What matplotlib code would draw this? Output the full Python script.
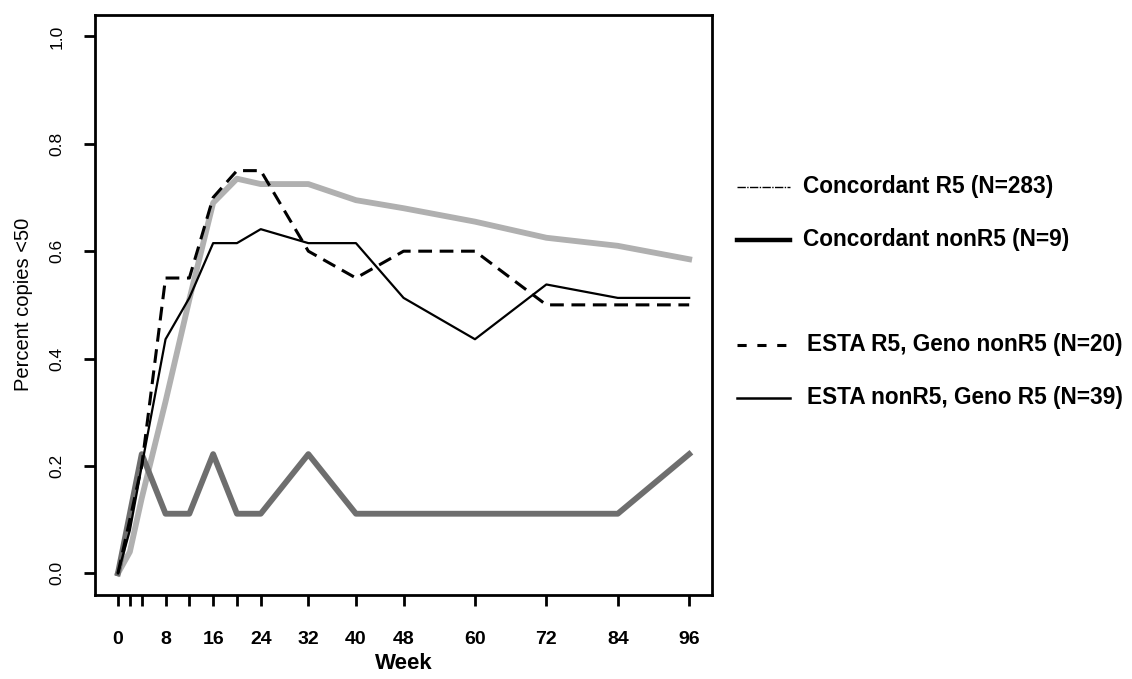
import matplotlib
matplotlib.use("Agg")
import matplotlib.pyplot as plt
from matplotlib.lines import Line2D

# weeks of the visits
weeks = [0, 2, 4, 8, 12, 16, 20, 24, 32, 40, 48, 60, 72, 84, 96]

# Concordant R5 (N=283) - light grey, smooth
conc_r5 = [0.0, 0.04, 0.14, 0.32, 0.51, 0.69, 0.735, 0.725, 0.725, 0.695, 0.68, 0.655, 0.625, 0.61, 0.585]
# Concordant nonR5 (N=9) - dark grey zigzag
conc_nonr5 = [0.0, 0.111, 0.222, 0.111, 0.111, 0.222, 0.111, 0.111, 0.222, 0.111, 0.111, 0.111, 0.111, 0.111, 0.222]
# ESTA R5, Geno nonR5 (N=20) - dashed
esta_r5 = [0.0, 0.10, 0.20, 0.55, 0.55, 0.70, 0.75, 0.75, 0.60, 0.55, 0.60, 0.60, 0.50, 0.50, 0.50]
# ESTA nonR5, Geno R5 (N=39) - thin solid
esta_nonr5 = [0.0, 0.08, 0.20, 0.436, 0.513, 0.615, 0.615, 0.641, 0.615, 0.615, 0.513, 0.436, 0.538, 0.513, 0.513]

x_tick_pos = [0, 2, 4, 8, 12, 16, 20, 24, 32, 40, 48, 60, 72, 84, 96]
x_tick_lab = ['0', '', '', '8', '', '16', '', '24', '32', '40', '48', '60', '72', '84', '96']
y_ticks = [0.0, 0.2, 0.4, 0.6, 0.8, 1.0]

legend_labels = ['Concordant R5 (N=283)', 'Concordant nonR5 (N=9)',
                 'ESTA R5, Geno nonR5 (N=20)', 'ESTA nonR5, Geno R5 (N=39)']

plt.rcParams['font.family'] = ['Liberation Sans', 'DejaVu Sans']

fig = plt.figure(figsize=(11.32, 6.79), dpi=100)
ax = fig.add_axes([0.084, 0.124, 0.545, 0.854])

ax.plot(weeks, conc_r5, color='#b0b0b0', lw=4.2, solid_joinstyle='round')
ax.plot(weeks, conc_nonr5, color='#6e6e6e', lw=4.2, solid_joinstyle='round')
ax.plot(weeks, esta_r5, color='black', lw=2.2, dashes=(4.5, 2.5))
ax.plot(weeks, esta_nonr5, color='black', lw=1.6)

ax.set_xlim(-3.84, 99.84)
ax.set_ylim(-0.04, 1.04)
ax.set_xticks(x_tick_pos)
ax.set_xticklabels(x_tick_lab, fontweight='bold', fontsize=14)
ax.set_yticks(y_ticks)
ax.set_yticklabels([f'{v:.1f}' for v in y_ticks], rotation=90, va='center', fontsize=12.5)
ax.tick_params(axis='both', direction='out', length=8, width=2)
ax.tick_params(axis='x', pad=18)
ax.tick_params(axis='y', pad=14)
for sp in ax.spines.values():
    sp.set_linewidth(2)

ax.set_xlabel('Week', fontweight='bold', fontsize=16, labelpad=4)
ax.set_ylabel('Percent copies <50', fontsize=14.5, labelpad=12)

# legend drawn by hand, outside the axes
leg_y = [0.725, 0.647, 0.492, 0.414]
leg_x = [0.709, 0.709, 0.713, 0.713]
leg_styles = [dict(color='black', lw=1.0, dashes=(6, 1, 1, 1)),
              dict(color='black', lw=3.2),
              dict(color='black', lw=2.2, dashes=(3, 3.5)),
              dict(color='black', lw=1.8)]
for yy, xx, lab, st in zip(leg_y, leg_x, legend_labels, leg_styles):
    fig.add_artist(Line2D([0.651, 0.698], [yy, yy], transform=fig.transFigure, **st))
    fig.text(xx, yy, lab, fontweight='bold', fontsize=16.3, va='center', ha='left')

fig.savefig('out.png', dpi=100)
